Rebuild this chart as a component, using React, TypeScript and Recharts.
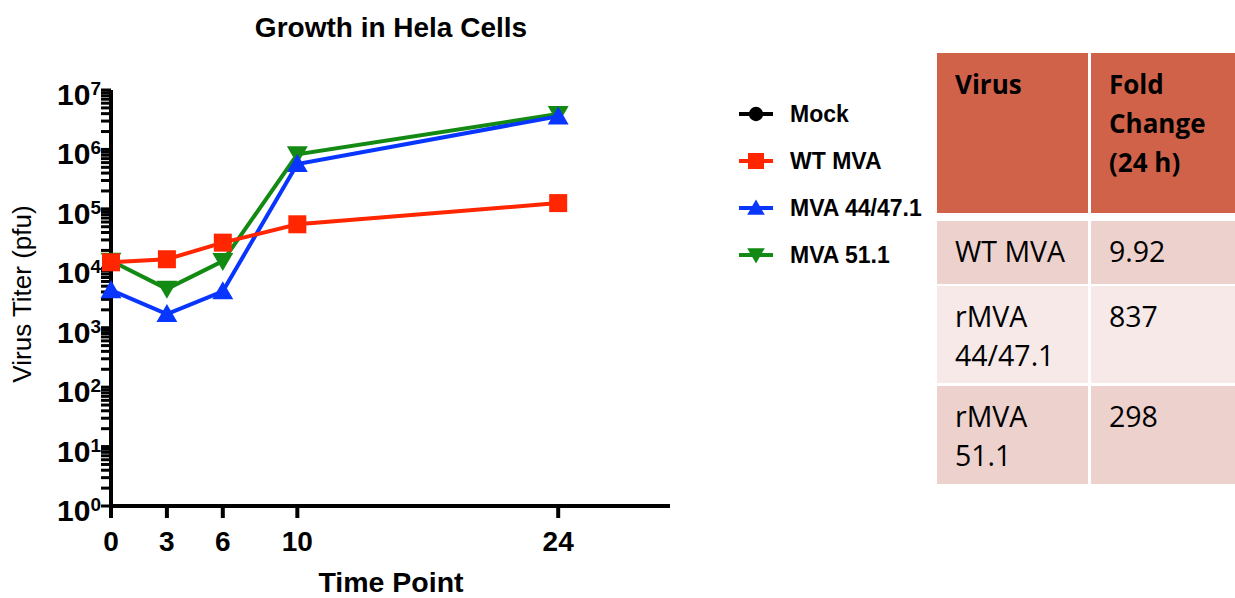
import React from 'react';
import { LineChart, Line, XAxis, YAxis, Customized } from 'recharts';

// ---------- data ----------
const timePoints = [0, 3, 6, 10, 24];
const mockTiter: (number | null)[] = [null, null, null, null, null];
const wtMvaTiter = [12600, 14200, 27000, 55000, 125000];
const mva4447Titer = [4300, 1700, 4100, 570000, 3600000];
const mva511Titer = [13400, 4500, 13200, 830000, 3950000];

const xTicks = [0, 3, 6, 10, 24];
const yMajorTicks = [1, 10, 100, 1000, 10000, 100000, 1000000, 10000000];
const yMajorExponents = ['0', '1', '2', '3', '4', '5', '6', '7'];
const yMinorMultipliers = [2, 3, 4, 5, 6, 7, 8, 9];

const tableHeaders = ['Virus', 'Fold\nChange\n(24 h)'];
const tableViruses = ['WT MVA', 'rMVA\n44/47.1', 'rMVA\n51.1'];
const tableFoldChanges = ['9.92', '837', '298'];

// ---------- config ----------
const RED = '#FF2600';
const BLUE = '#0836FF';
const GREEN = '#138A13';

type Shape = 'circle' | 'square' | 'up' | 'down';
const series: { key: string; name: string; values: (number | null)[]; color: string; shape: Shape }[] = [
  { key: 'mock', name: 'Mock', values: mockTiter, color: '#000000', shape: 'circle' },
  { key: 'wt', name: 'WT MVA', values: wtMvaTiter, color: RED, shape: 'square' },
  { key: 'm4447', name: 'MVA 44/47.1', values: mva4447Titer, color: BLUE, shape: 'up' },
  { key: 'm511', name: 'MVA 51.1', values: mva511Titer, color: GREEN, shape: 'down' },
];
const drawOrder = ['mock', 'm511', 'm4447', 'wt'];

const chartData = timePoints.map((t, i) => {
  const row: Record<string, number | null> = { t };
  series.forEach((s) => {
    row[s.key] = s.values[i];
  });
  return row;
});

const allYTicks: number[] = [];
yMajorTicks.forEach((m, i) => {
  allYTicks.push(m);
  if (i < yMajorTicks.length - 1) yMinorMultipliers.forEach((k) => allYTicks.push(m * k));
});

const FONT = '"Liberation Sans", Arial, sans-serif';
const TABLE_FONT = '"Open Sans", "Liberation Sans", sans-serif';

function Marker({ cx, cy, shape, color, size }: { cx: number; cy: number; shape: Shape; color: string; size: number }) {
  const h = size / 2;
  if (shape === 'circle') return <circle cx={cx} cy={cy} r={h * 0.9} fill={color} />;
  if (shape === 'square') return <rect x={cx - h} y={cy - h} width={size} height={size} fill={color} />;
  if (shape === 'up')
    return <polygon points={`${cx},${cy - h * 1.05} ${cx + h * 1.1},${cy + h * 0.85} ${cx - h * 1.1},${cy + h * 0.85}`} fill={color} />;
  return <polygon points={`${cx},${cy + h * 1.05} ${cx + h * 1.1},${cy - h * 0.85} ${cx - h * 1.1},${cy - h * 0.85}`} fill={color} />;
}

const YTick = (props: any) => {
  const { y, payload } = props;
  const idx = yMajorTicks.indexOf(payload.value);
  if (idx < 0) return <g />;
  return (
    <text x={101} y={y + 15} textAnchor="end" fontFamily={FONT} fontWeight="bold" fontSize={30} fill="#000">
      10
      <tspan dy={-10} fontSize={19}>
        {yMajorExponents[idx]}
      </tspan>
    </text>
  );
};

const XTick = (props: any) => {
  const { x, payload } = props;
  return (
    <text x={x} y={551} textAnchor="middle" fontFamily={FONT} fontWeight="bold" fontSize={28} fill="#000">
      {payload.value}
    </text>
  );
};

const LegendAndLabels = () => (
  <g>
    <g transform="translate(735,96)">
      {series.map((s, i) => {
        const cy = 18 + i * 47;
        return (
          <g key={s.key}>
            <line x1={4} x2={38} y1={cy} y2={cy} stroke={s.color} strokeWidth={4} />
            <Marker cx={21} cy={cy} shape={s.shape} color={s.color} size={16} />
            <text x={55} y={cy + 8} fontFamily={FONT} fontWeight="bold" fontSize={23} fill="#000">
              {s.name}
            </text>
          </g>
        );
      })}
    </g>
    <text x={391} y={37} textAnchor="middle" fontFamily={FONT} fontWeight="bold" fontSize={28} fill="#000">
      Growth in Hela Cells
    </text>
    <text x={391} y={592} textAnchor="middle" fontFamily={FONT} fontWeight="bold" fontSize={28.5} fill="#000">
      Time Point
    </text>
    <text
      x={0}
      y={0}
      transform="translate(31,294) rotate(-90)"
      textAnchor="middle"
      fontFamily={FONT}
      fontSize={26}
      fill="#000"
    >
      Virus Titer (pfu)
    </text>
  </g>
);

const cellBase: React.CSSProperties = {
  position: 'absolute',
  boxSizing: 'border-box',
  whiteSpace: 'pre-line',
  lineHeight: '39px',
  color: '#000',
  fontFamily: TABLE_FONT,
  paddingLeft: 18,
};

const rowTops = [221, 286, 386];
const rowHeights = [63, 97, 98];
const rowColors = ['#EDD1CD', '#F6E9E8', '#EDD1CD'];
const colLefts = [937, 1091];
const colWidths = [151, 160];

export default function App() {
  return (
    <div style={{ position: 'absolute', left: 0, top: 0, width: 1235, height: 598, overflow: 'hidden', background: '#fff' }}>
      <LineChart
        width={1235}
        height={598}
        data={chartData}
        margin={{ top: 90, right: 565, bottom: 0, left: 0 }}
      >
        <XAxis
          dataKey="t"
          type="number"
          domain={[0, 30]}
          ticks={xTicks}
          interval={0}
          height={92}
          tickSize={12}
          axisLine={{ stroke: '#000', strokeWidth: 4 }}
          tickLine={{ stroke: '#000', strokeWidth: 4 }}
          tick={<XTick />}
        />
        <YAxis
          type="number"
          scale="log"
          domain={[1, 10000000]}
          ticks={allYTicks}
          interval={0}
          allowDataOverflow
          width={111}
          tickSize={10}
          axisLine={{ stroke: '#000', strokeWidth: 4 }}
          tickLine={{ stroke: '#000', strokeWidth: 3 }}
          tick={<YTick />}
        />
        {drawOrder.map((k) => {
          const s = series.find((q) => q.key === k)!;
          return (
            <Line
              key={s.key}
              dataKey={s.key}
              name={s.name}
              stroke={s.color}
              strokeWidth={4}
              isAnimationActive={false}
              connectNulls={false}
              dot={(p: any) =>
                p.cy == null || p.value == null ? (
                  <g key={`${s.key}-${p.index}`} />
                ) : (
                  <Marker key={`${s.key}-${p.index}`} cx={p.cx} cy={p.cy} shape={s.shape} color={s.color} size={s.shape === 'square' ? 18 : 19} />
                )
              }
              activeDot={false}
            />
          );
        })}
        <Customized component={LegendAndLabels} />
      </LineChart>

      {/* table */}
      <div
        style={{
          ...cellBase,
          left: colLefts[0],
          top: 53,
          width: colWidths[0],
          height: 160,
          background: '#D0624A',
          fontWeight: 'bold',
          fontSize: 26,
          paddingTop: 12,
        }}
      >
        {tableHeaders[0]}
      </div>
      <div
        style={{
          ...cellBase,
          left: colLefts[1],
          top: 53,
          width: colWidths[1],
          height: 160,
          background: '#D0624A',
          fontWeight: 'bold',
          fontSize: 26,
          paddingTop: 12,
        }}
      >
        {tableHeaders[1]}
      </div>
      {tableViruses.map((v, i) => (
        <React.Fragment key={v}>
          <div
            style={{
              ...cellBase,
              left: colLefts[0],
              top: rowTops[i],
              width: colWidths[0],
              height: rowHeights[i],
              background: rowColors[i],
              fontSize: 28.5,
              paddingTop: 11,
            }}
          >
            {v}
          </div>
          <div
            style={{
              ...cellBase,
              left: colLefts[1],
              top: rowTops[i],
              width: colWidths[1],
              height: rowHeights[i],
              background: rowColors[i],
              fontSize: 28.5,
              paddingTop: 11,
            }}
          >
            {tableFoldChanges[i]}
          </div>
        </React.Fragment>
      ))}
    </div>
  );
}
